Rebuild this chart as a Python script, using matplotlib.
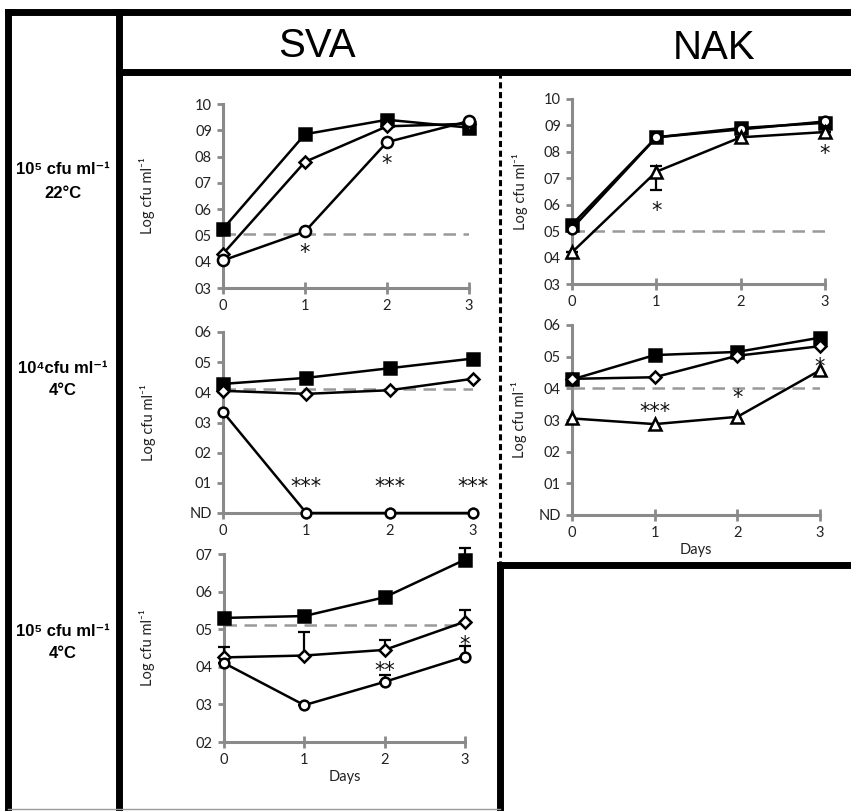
import numpy as np
import matplotlib
matplotlib.use("Agg")
import matplotlib.pyplot as plt
from matplotlib.lines import Line2D
from matplotlib.ticker import FuncFormatter
from matplotlib.transforms import offset_copy

W, H = 851, 811
days = [0, 1, 2, 3]

# SVA, 10^5 cfu ml-1, 22 C
sva22_sq = [5.25, 8.85, 9.4, 9.1]
sva22_di = [4.3, 7.8, 9.15, 9.25]
sva22_ci = [4.05, 5.15, 8.55, 9.35]
sva22_stars = [(1, 4.55, '*'), (2, 7.95, '*')]

# NAK, 10^5 cfu ml-1, 22 C
nak22_sq = [5.25, 8.55, 8.9, 9.1]
nak22_di = [5.1, 8.55, 8.85, 9.15]
nak22_tr = [4.2, 7.25, 8.55, 8.75]
nak22_tr_lo = [0, 0.7, 0, 0]
nak22_tr_hi = [0, 0.2, 0, 0]
nak22_stars = [(1, 6.0, '*'), (3, 8.15, '*')]

# SVA, 10^4 cfu ml-1, 4 C
sva4_sq = [4.28, 4.48, 4.8, 5.12]
sva4_di = [4.05, 3.95, 4.07, 4.45]
sva4_ci = [3.35, 0, 0, 0]
sva4_stars = [(1, 1.05, '***'), (2, 1.05, '***'), (3, 1.05, '***')]

# NAK, 10^4 cfu ml-1, 4 C
nak4_sq = [4.28, 5.05, 5.15, 5.6]
nak4_di = [4.3, 4.35, 5.03, 5.33]
nak4_tr = [3.05, 2.87, 3.1, 4.57]
nak4_stars = [(1, 3.45, '***'), (2, 3.9, '*'), (3, 4.85, '*')]

# SVA, 10^5 cfu ml-1, 4 C
sva5_sq = [5.3, 5.35, 5.85, 6.85]
sva5_sq_hi = [0, 0, 0, 0.32]
sva5_di = [4.25, 4.3, 4.45, 5.2]
sva5_di_hi = [0.27, 0.62, 0.25, 0.3]
sva5_ci = [4.1, 2.98, 3.6, 4.27]
sva5_ci_hi = [0, 0, 0.18, 0.28]
sva5_stars = [(2, 4.05, '**'), (3, 4.75, '*')]

plt.rcParams['font.family'] = ['Lato', 'DejaVu Sans']

fig = plt.figure(figsize=(W / 100, H / 100), dpi=100)

GRAY = '#8a8a8a'


def box(x0, ytop, x1, ybot):
    return [x0 / W, 1 - ybot / H, (x1 - x0) / W, (ybot - ytop) / H]


def fmt(v, pos):
    if abs(v) < 1e-9:
        return 'ND'
    return '%02d' % round(v)


def panel(rect, ylim, xlabel=False):
    ax = fig.add_axes(rect)
    ax.set_xlim(0, 3)
    ax.set_ylim(*ylim)
    ax.set_xticks(days)
    ax.set_yticks(np.arange(ylim[0], ylim[1] + 1))
    ax.yaxis.set_major_formatter(FuncFormatter(fmt))
    for s in ['top', 'right']:
        ax.spines[s].set_visible(False)
    for s in ['left', 'bottom']:
        ax.spines[s].set_color(GRAY)
        ax.spines[s].set_linewidth(2.2)
    ax.tick_params(axis='x', direction='inout', length=8, width=2, color=GRAY,
                   labelsize=10.5, labelcolor='#222', pad=4)
    ax.tick_params(axis='y', direction='out', length=4, width=2, color=GRAY,
                   labelsize=10.5, labelcolor='#222', pad=4)
    ax.set_ylabel('Log cfu ml⁻¹', fontsize=10.5, color='#222')
    if xlabel:
        ax.set_xlabel('Days', fontsize=10.5, color='#222', labelpad=2)
    ax.patch.set_alpha(0)
    return ax


def series(ax, y, marker, fill, ms, lo=None, hi=None):
    if lo is not None or hi is not None:
        lo = lo if lo is not None else [0] * len(y)
        hi = hi if hi is not None else [0] * len(y)
        ax.errorbar(days, y, yerr=[lo, hi], fmt='none', ecolor='black',
                    elinewidth=1.6, capsize=4, capthick=1.6, zorder=3, clip_on=False)
    ax.plot(days, y, color='black', lw=1.8, marker=marker, ms=ms,
            mfc=fill, mec='black', mew=1.8, zorder=4, clip_on=False)


def limit(ax, level):
    ax.axhline(level, color='#999999', lw=1.8, dashes=(5, 3), zorder=2)


def stars(ax, marks):
    # the asterisk glyph sits high in its box, so push it down a little
    tr = offset_copy(ax.transData, fig=fig, y=-6, units='dots')
    for d, v, s in marks:
        ax.text(d, v, s, ha='center', va='center', fontsize=15, color='#111',
                family=['DejaVu Sans'], zorder=5, transform=tr)


# SVA 22 C
ax = panel(box(223, 104, 469, 288), (3, 10))
ax.yaxis.set_label_coords(-0.275, 0.5)
limit(ax, 5.05)
series(ax, sva22_sq, 's', 'black', 8)
series(ax, sva22_di, 'D', 'white', 6)
series(ax, sva22_ci, 'o', 'white', 8)
stars(ax, sva22_stars)

# NAK 22 C
ax = panel(box(572, 99, 825, 284), (3, 10))
ax.yaxis.set_label_coords(-0.175, 0.5)
limit(ax, 5.0)
series(ax, nak22_sq, 's', 'black', 8)
series(ax, nak22_di, 'o', 'white', 7)
series(ax, nak22_tr, '^', 'white', 8, lo=nak22_tr_lo, hi=nak22_tr_hi)
stars(ax, nak22_stars)

# SVA 10^4 4 C
ax = panel(box(223, 332, 473, 513), (0, 6))
ax.yaxis.set_label_coords(-0.27, 0.5)
limit(ax, 4.1)
series(ax, sva4_sq, 's', 'black', 8)
series(ax, sva4_di, 'D', 'white', 6)
series(ax, sva4_ci, 'o', 'white', 7)
stars(ax, sva4_stars)

# NAK 10^4 4 C
ax = panel(box(572, 325, 820, 515), (0, 6), xlabel=True)
ax.yaxis.set_label_coords(-0.18, 0.5)
limit(ax, 4.02)
series(ax, nak4_sq, 's', 'black', 8)
series(ax, nak4_di, 'D', 'white', 6)
series(ax, nak4_tr, '^', 'white', 8)
stars(ax, nak4_stars)

# SVA 10^5 4 C
ax = panel(box(224, 554, 465, 742), (2, 7), xlabel=True)
ax.yaxis.set_label_coords(-0.285, 0.5)
limit(ax, 5.12)
series(ax, sva5_sq, 's', 'black', 8, hi=sva5_sq_hi)
series(ax, sva5_di, 'D', 'white', 6, hi=sva5_di_hi)
series(ax, sva5_ci, 'o', 'white', 7, hi=sva5_ci_hi)
stars(ax, sva5_stars)


# frame of the figure
def frame(x0, y0, x1, y1, lw=5, color='black', **kw):
    fig.add_artist(Line2D([x0 / W, x1 / W], [1 - y0 / H, 1 - y1 / H],
                          lw=lw, color=color, solid_capstyle='projecting', **kw))


frame(8, 12, 851, 12)
frame(8, 12, 8, 811)
frame(119, 12, 119, 811)
frame(119, 72, 851, 72)
frame(500, 565, 851, 565)
frame(500, 565, 500, 811)
frame(500, 72, 500, 565, lw=2.2, dashes=(2, 1.2))
frame(8, 809, 500, 809, lw=1, color='#999999')

hdr = ['Liberation Sans', 'DejaVu Sans']
fig.text(317 / W, 1 - 46 / H, 'SVA', ha='center', va='center', fontsize=29, family=hdr)
fig.text(714 / W, 1 - 48 / H, 'NAK', ha='center', va='center', fontsize=29, family=hdr)

rows = [(181, '10⁵ cfu ml⁻¹', '22°C'), (379, '10⁴cfu ml⁻¹', '4°C'), (642, '10⁵ cfu ml⁻¹', '4°C')]
for yc, a, b in rows:
    fig.text(63 / W, 1 - (yc - 11) / H, a, ha='center', va='center', fontsize=12,
             weight='bold', family=hdr)
    fig.text(63 / W, 1 - (yc + 12) / H, b, ha='center', va='center', fontsize=12,
             weight='bold', family=hdr)

fig.savefig('out.png', dpi=100)
